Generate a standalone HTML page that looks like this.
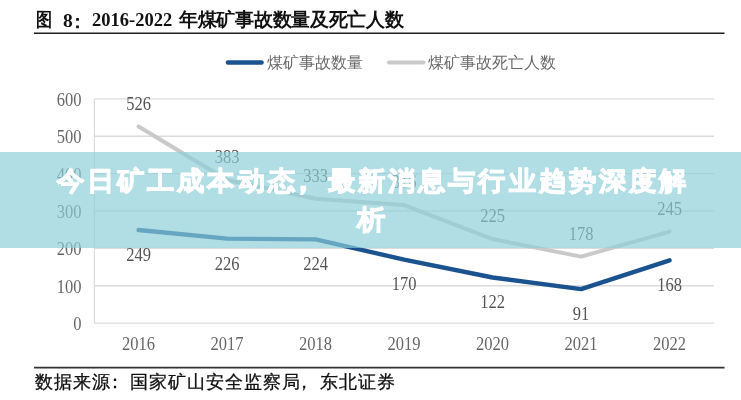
<!DOCTYPE html>
<html><head><meta charset="utf-8">
<style>
html,body{margin:0;padding:0;}
body{width:741px;height:400px;overflow:hidden;background:#fff;position:relative;filter:blur(0.4px);font-family:"Liberation Serif",serif;}
svg{position:absolute;left:0;top:0;}
.t{position:absolute;white-space:nowrap;}
.title{left:36px;top:7px;font-size:18.5px;font-weight:bold;color:#111;line-height:26px;}
.leg{font-size:16px;color:#6a6a6a;line-height:20px;top:53px;}
.yl,.xl,.dl{transform:scaleY(1.12);transform-origin:50% 70%;}
.yl{position:absolute;left:41.5px;width:40px;text-align:right;font-size:16.5px;line-height:19px;color:#666;}
.xl{position:absolute;width:60px;text-align:center;font-size:16.5px;line-height:19px;color:#666;}
.dl{position:absolute;width:60px;text-align:center;font-size:16.5px;line-height:19px;color:#555;}
.src{left:35px;top:370px;font-size:18px;letter-spacing:1px;color:#111;-webkit-text-stroke:0.3px #111;line-height:24px;}
.banner{position:absolute;left:0;top:152px;width:741px;height:96px;background:rgba(140,206,217,0.68);}
.btext{position:absolute;white-space:nowrap;font-family:"Liberation Sans",sans-serif;font-weight:bold;font-size:27px;line-height:30px;color:#fff;-webkit-text-stroke:0.8px #fff;letter-spacing:3.1px;text-shadow:0 0.5px 0 #fff,0 -0.5px 0 #fff;transform:scaleY(0.95);transform-origin:0 50%;}
</style></head><body>
<svg width="741" height="400" viewBox="0 0 741 400">
<line x1="94.4" y1="323.10" x2="714" y2="323.10" stroke="#dcdcdc" stroke-width="1.3"/>
<line x1="94.4" y1="285.73" x2="714" y2="285.73" stroke="#dcdcdc" stroke-width="1.3"/>
<line x1="94.4" y1="248.37" x2="714" y2="248.37" stroke="#dcdcdc" stroke-width="1.3"/>
<line x1="94.4" y1="211.00" x2="714" y2="211.00" stroke="#dcdcdc" stroke-width="1.3"/>
<line x1="94.4" y1="173.63" x2="714" y2="173.63" stroke="#dcdcdc" stroke-width="1.3"/>
<line x1="94.4" y1="136.27" x2="714" y2="136.27" stroke="#dcdcdc" stroke-width="1.3"/>
<line x1="94.4" y1="98.90" x2="714" y2="98.90" stroke="#dcdcdc" stroke-width="1.3"/>
<line x1="94.4" y1="98.90" x2="94.4" y2="323.10" stroke="#dcdcdc" stroke-width="1.3"/>
<polyline points="138.60,126.55 227.10,179.98 315.60,198.67 404.10,205.02 492.60,239.02 581.10,256.59 669.60,231.55" fill="none" stroke="#c9c9c9" stroke-width="4" stroke-linejoin="round" stroke-linecap="round"/>
<polyline points="138.60,230.06 227.10,238.65 315.60,239.40 404.10,259.58 492.60,277.51 581.10,289.10 669.60,260.32" fill="none" stroke="#1b5290" stroke-width="4.4" stroke-linejoin="round" stroke-linecap="round"/>
<line x1="228" y1="62.5" x2="261.5" y2="62.5" stroke="#1b5290" stroke-width="4.6" stroke-linecap="round"/>
<line x1="389" y1="62.4" x2="423.5" y2="62.4" stroke="#c9c9c9" stroke-width="4" stroke-linecap="round"/>
<line x1="34" y1="33.3" x2="724.5" y2="33.3" stroke="#1e1e1e" stroke-width="1.6"/>
<line x1="34" y1="367.6" x2="724.5" y2="367.6" stroke="#333" stroke-width="1.8"/>
</svg>
<div class="t title" style="left:36px;transform:scaleX(0.85);transform-origin:0 50%">图</div><div class="t title" style="left:63px;font-size:19.5px;top:7.5px">8</div><div class="t title" style="left:68px;top:8.5px">：</div><div class="t title" style="left:92px">2016-2022</div><div class="t title" style="left:179px;font-size:18.5px;letter-spacing:-0.3px">年煤矿事故数量及死亡人数</div>
<div class="t leg" style="left:266.5px">煤矿事故数量</div>
<div class="t leg" style="left:427.5px">煤矿事故死亡人数</div>
<div class="yl" style="top:315.1px">0</div>
<div class="yl" style="top:277.7px">100</div>
<div class="yl" style="top:240.4px">200</div>
<div class="yl" style="top:203.0px">300</div>
<div class="yl" style="top:165.6px">400</div>
<div class="yl" style="top:128.3px">500</div>
<div class="yl" style="top:90.9px">600</div>
<div class="xl" style="left:108.6px;top:335px">2016</div>
<div class="xl" style="left:197.1px;top:335px">2017</div>
<div class="xl" style="left:285.6px;top:335px">2018</div>
<div class="xl" style="left:374.1px;top:335px">2019</div>
<div class="xl" style="left:462.6px;top:335px">2020</div>
<div class="xl" style="left:551.1px;top:335px">2021</div>
<div class="xl" style="left:639.6px;top:335px">2022</div>
<div class="dl" style="left:108.6px;top:245.9px">249</div>
<div class="dl" style="left:197.1px;top:254.5px">226</div>
<div class="dl" style="left:285.6px;top:255.2px">224</div>
<div class="dl" style="left:374.1px;top:275.4px">170</div>
<div class="dl" style="left:462.6px;top:293.3px">122</div>
<div class="dl" style="left:551.1px;top:304.9px">91</div>
<div class="dl" style="left:639.6px;top:276.1px">168</div>
<div class="dl" style="left:108.6px;top:94.7px">526</div>
<div class="dl" style="left:197.1px;top:148.2px">383</div>
<div class="dl" style="left:285.6px;top:166.9px">333</div>
<div class="dl" style="left:374.1px;top:173.2px">316</div>
<div class="dl" style="left:462.6px;top:207.2px">225</div>
<div class="dl" style="left:551.1px;top:224.8px">178</div>
<div class="dl" style="left:639.6px;top:199.8px">245</div>
<div class="t src">数据来源<span style="position:relative;left:-5px">：</span>国家矿山安全监察局<span style="position:relative;left:-6px">，</span>东北证券</div>
<div class="banner"></div>
<div class="btext" style="left:57px;top:166px">今日矿工成本动态<span style="position:relative;left:-8px;display:inline-block;transform:scale(1.2,1.1)">，</span>最新消息与行业趋势深度解</div>
<div class="btext" style="left:357px;top:205px;font-size:28px">析</div>
</body></html>
